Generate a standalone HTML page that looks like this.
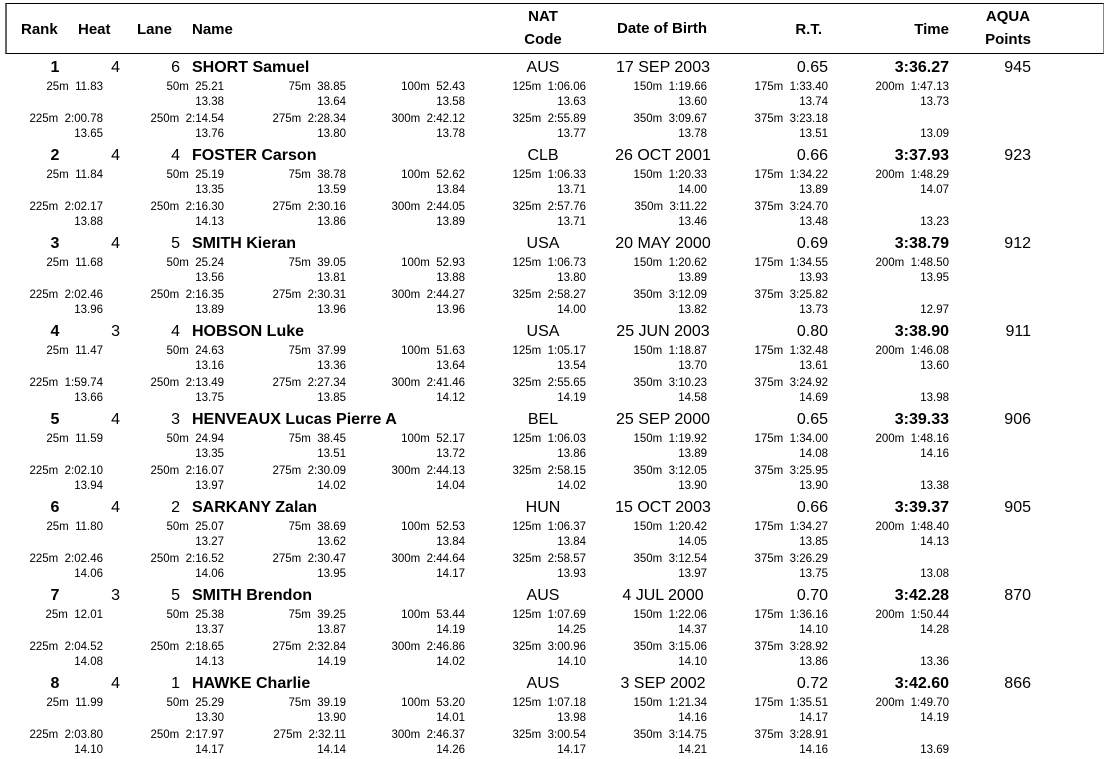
<!DOCTYPE html>
<html><head><meta charset="utf-8">
<style>
body{margin:0;width:1112px;height:759px;background:#fff;position:relative;overflow:hidden;font-family:"Liberation Sans",Arial,sans-serif;color:#000}
.t{position:absolute;white-space:pre;line-height:16px}
.h{font-weight:bold;font-size:15px;line-height:18px}
.n{font-size:16px;line-height:18px}
.s{font-size:11.5px;line-height:14px}
.r{text-align:right}
.c{text-align:center}
#hdr{position:absolute;left:5px;top:3px;width:1099px;height:51px;border:1px solid #000;border-left:2px solid #666;border-right:1px solid #888;box-sizing:border-box}
</style></head><body>
<div id="hdr"></div>
<div class="t h" style="left:21px;top:21px">Rank</div>
<div class="t h" style="left:78px;top:21px">Heat</div>
<div class="t h" style="left:137px;top:21px">Lane</div>
<div class="t h" style="left:192px;top:21px">Name</div>
<div class="t h c" style="left:506px;top:8px;width:74px">NAT</div>
<div class="t h c" style="left:506px;top:31px;width:74px">Code</div>
<div class="t h c" style="left:600px;top:20px;width:124px">Date of Birth</div>
<div class="t h r" style="left:722px;top:21px;width:100px">R.T.</div>
<div class="t h r" style="left:849px;top:21px;width:100px">Time</div>
<div class="t h c" style="left:960px;top:8px;width:96px">AQUA</div>
<div class="t h c" style="left:960px;top:31px;width:96px">Points</div>
<div id="rows"></div>
<script>
const ranks=[1,2,3,4,5,6,7,8];
const heats=[4,4,4,3,4,4,3,4];
const lanes=[6,4,5,4,3,2,5,1];
const names=["SHORT Samuel","FOSTER Carson","SMITH Kieran","HOBSON Luke","HENVEAUX Lucas Pierre A","SARKANY Zalan","SMITH Brendon","HAWKE Charlie"];
const nats=["AUS","CLB","USA","USA","BEL","HUN","AUS","AUS"];
const dobs=["17 SEP 2003","26 OCT 2001","20 MAY 2000","25 JUN 2003","25 SEP 2000","15 OCT 2003","4 JUL 2000","3 SEP 2002"];
const rts=["0.65","0.66","0.69","0.80","0.65","0.66","0.70","0.72"];
const times=["3:36.27","3:37.93","3:38.79","3:38.90","3:39.33","3:39.37","3:42.28","3:42.60"];
const points=[945,923,912,911,906,905,870,866];
const splits=[
"11.83 25.21 38.85 52.43 1:06.06 1:19.66 1:33.40 1:47.13 2:00.78 2:14.54 2:28.34 2:42.12 2:55.89 3:09.67 3:23.18",
"11.84 25.19 38.78 52.62 1:06.33 1:20.33 1:34.22 1:48.29 2:02.17 2:16.30 2:30.16 2:44.05 2:57.76 3:11.22 3:24.70",
"11.68 25.24 39.05 52.93 1:06.73 1:20.62 1:34.55 1:48.50 2:02.46 2:16.35 2:30.31 2:44.27 2:58.27 3:12.09 3:25.82",
"11.47 24.63 37.99 51.63 1:05.17 1:18.87 1:32.48 1:46.08 1:59.74 2:13.49 2:27.34 2:41.46 2:55.65 3:10.23 3:24.92",
"11.59 24.94 38.45 52.17 1:06.03 1:19.92 1:34.00 1:48.16 2:02.10 2:16.07 2:30.09 2:44.13 2:58.15 3:12.05 3:25.95",
"11.80 25.07 38.69 52.53 1:06.37 1:20.42 1:34.27 1:48.40 2:02.46 2:16.52 2:30.47 2:44.64 2:58.57 3:12.54 3:26.29",
"12.01 25.38 39.25 53.44 1:07.69 1:22.06 1:36.16 1:50.44 2:04.52 2:18.65 2:32.84 2:46.86 3:00.96 3:15.06 3:28.92",
"11.99 25.29 39.19 53.20 1:07.18 1:21.34 1:35.51 1:49.70 2:03.80 2:17.97 2:32.11 2:46.37 3:00.54 3:14.75 3:28.91"];
const laps=[
"13.38 13.64 13.58 13.63 13.60 13.74 13.73 13.65 13.76 13.80 13.78 13.77 13.78 13.51 13.09",
"13.35 13.59 13.84 13.71 14.00 13.89 14.07 13.88 14.13 13.86 13.89 13.71 13.46 13.48 13.23",
"13.56 13.81 13.88 13.80 13.89 13.93 13.95 13.96 13.89 13.96 13.96 14.00 13.82 13.73 12.97",
"13.16 13.36 13.64 13.54 13.70 13.61 13.60 13.66 13.75 13.85 14.12 14.19 14.58 14.69 13.98",
"13.35 13.51 13.72 13.86 13.89 14.08 14.16 13.94 13.97 14.02 14.04 14.02 13.90 13.90 13.38",
"13.27 13.62 13.84 13.84 14.05 13.85 14.13 14.06 14.06 13.95 14.17 13.93 13.97 13.75 13.08",
"13.37 13.87 14.19 14.25 14.37 14.10 14.28 14.08 14.13 14.19 14.02 14.10 14.10 13.86 13.36",
"13.30 13.90 14.01 13.98 14.16 14.17 14.19 14.10 14.17 14.14 14.26 14.17 14.21 14.16 13.69"];
const colR=[103,224,346,465,586,707,828,949];
const host=document.getElementById('rows');
function add(txt,cls,left,top,w,name){
  const d=document.createElement('div');
  d.className='t '+cls;
  d.textContent=txt;
  d.style.left=left+'px';d.style.top=top+'px';
  if(w)d.style.width=w+'px';
  
  
  host.appendChild(d);
}
ranks.forEach((rk,i)=>{
  const y=68+i*88;
  const nt=y-9;
  add(String(rk),'n c',35,nt,40,'rank-'+rk);
  host.lastChild.style.fontWeight='bold';
  add(String(heats[i]),'n r',80,nt,40,'heat-'+rk);
  add(String(lanes[i]),'n r',140,nt,40,'lane-'+rk);
  add(names[i],'n',192,nt,0,'name-'+rk);
  host.lastChild.style.fontWeight='bold';
  add(nats[i],'n c',503,nt,80,'nat-'+rk);
  add(dobs[i],'n c',603,nt,120,'dob-'+rk);
  add(rts[i],'n r',728,nt,100,'rt-'+rk);
  add(times[i],'n r',849,nt,100,'time-'+rk);
  host.lastChild.style.fontWeight='bold';
  add(String(points[i]),'n r',951,nt,80,'points-'+rk);
  const sp=splits[i].split(' '), lp=laps[i].split(' ');
  sp.forEach((v,k)=>{
    const col=k%8, row=Math.floor(k/8);
    const dist=(k+1)*25;
    add(dist+'m  '+v,'s r',colR[col]-120,y+19+row*32-7,120,'split-'+rk+'-'+dist);
  });
  lp.forEach((v,k)=>{
    const idx=k+1, col=idx%8, row=Math.floor(idx/8);
    const dist=(idx+1)*25;
    add(v,'s r',colR[col]-80,y+34+row*32-7,80,'lap-'+rk+'-'+dist);
  });
});
</script>
</body></html>
